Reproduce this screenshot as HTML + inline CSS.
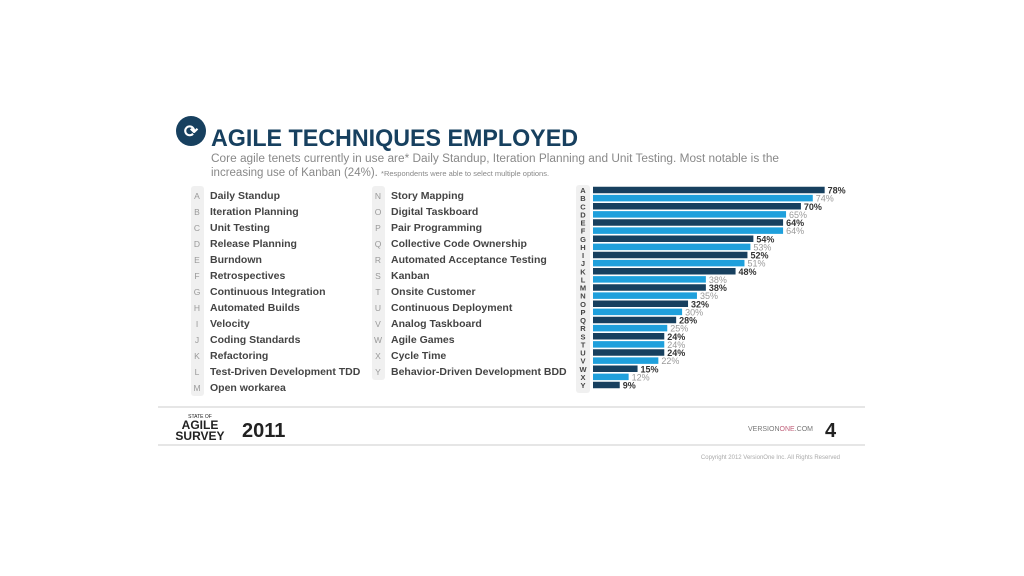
<!DOCTYPE html>
<html><head><meta charset="utf-8"><style>
body{margin:0;background:#fff;width:1024px;height:576px;overflow:hidden;font-family:"Liberation Sans",sans-serif}
svg{display:block}
</style></head><body>
<svg id="s" width="1024" height="576" xmlns="http://www.w3.org/2000/svg">
<g>
<circle cx="191" cy="131" r="15" fill="#17405f"/>
<text x="191" y="137" font-size="17" fill="#fff" text-anchor="middle" font-weight="bold">⟳</text>
<text x="211" y="146" font-size="24" font-weight="bold" fill="#17405f" textLength="367" lengthAdjust="spacingAndGlyphs">AGILE TECHNIQUES EMPLOYED</text>
<text x="211" y="162" font-size="11.5" fill="#888" textLength="568" lengthAdjust="spacingAndGlyphs">Core agile tenets currently in use are* Daily Standup, Iteration Planning and Unit Testing. Most notable is the</text>
<text x="211" y="176" font-size="11.5" fill="#888">increasing use of Kanban (24%). <tspan font-size="7.5">*Respondents were able to select multiple options.</tspan></text>
</g>
<g id="legend">
<rect x="191" y="186" width="13" height="210" rx="3" fill="#f0f0f0"/>
<rect x="372" y="186" width="13" height="194" rx="3" fill="#f0f0f0"/>
</g>
<rect x="576" y="185" width="14" height="208" rx="3" fill="#f0f0f0"/>
<g id="chart"></g>
<g>
<line x1="158" y1="407" x2="865" y2="407" stroke="#ddd" stroke-width="1.5"/>
<line x1="158" y1="445" x2="865" y2="445" stroke="#ddd" stroke-width="1.5"/>
<text x="200" y="418" font-size="5" fill="#222" text-anchor="middle">STATE OF</text>
<text x="200" y="429" font-size="12" font-weight="bold" fill="#222" text-anchor="middle">AGILE</text>
<text x="200" y="440" font-size="12" font-weight="bold" fill="#222" text-anchor="middle">SURVEY</text>
<text x="242" y="437" font-size="20" font-weight="bold" fill="#222">2011</text>
<text x="748" y="431" font-size="7" fill="#777">VERSION<tspan fill="#c0607a">ONE</tspan>.COM</text>
<text x="825" y="437" font-size="20" font-weight="bold" fill="#222">4</text>
<text x="840" y="459" font-size="6" fill="#aaa" text-anchor="end">Copyright 2012 VersionOne Inc. All Rights Reserved</text>
</g>
</svg>
<script>
const letters=["A","B","C","D","E","F","G","H","I","J","K","L","M","N","O","P","Q","R","S","T","U","V","W","X","Y"];
const names=["Daily Standup","Iteration Planning","Unit Testing","Release Planning","Burndown","Retrospectives","Continuous Integration","Automated Builds","Velocity","Coding Standards","Refactoring","Test-Driven Development TDD","Open workarea","Story Mapping","Digital Taskboard","Pair Programming","Collective Code Ownership","Automated Acceptance Testing","Kanban","Onsite Customer","Continuous Deployment","Analog Taskboard","Agile Games","Cycle Time","Behavior-Driven Development BDD"];
const values=[78,74,70,65,64,64,54,53,52,51,48,38,38,35,32,30,28,25,24,24,24,22,15,12,9];
const NS="http://www.w3.org/2000/svg";
function mk(t,a,p){const e=document.createElementNS(NS,t);for(const k in a)e.setAttribute(k,a[k]);p.appendChild(e);return e;}
const lg=document.getElementById('legend'),ch=document.getElementById('chart');
const x0=593,xs=v=>v*2.97,yA=190,step=8.125,bh=6.5;
letters.forEach((l,i)=>{
  const col=i<13?0:1,r=i<13?i:i-13;
  const y=199+r*16;
  const lt=mk('text',{x:col?378:197,y:y,'font-size':8.5,fill:'#999','text-anchor':'middle'},lg);
  lt.textContent=l;
  
  
  const nt=mk('text',{x:col?391:210,y:y,'font-size':10.5,'font-weight':'bold',fill:'#444'},lg);
  nt.textContent=names[i];
  
  
  const cy=yA+i*step;
  const dark=i%2===0;
  const ct=mk('text',{x:583,y:cy+3,'font-size':7.5,'font-weight':'bold',fill:'#444','text-anchor':'middle'},ch);
  ct.textContent=l;
  
  
  const b=mk('rect',{x:x0,y:cy-bh/2,width:xs(values[i]),height:bh,fill:dark?'#17405f':'#1fa0dc'},ch);
  
  
  const vt=mk('text',{x:x0+xs(values[i])+3,y:cy+3.5,'font-size':9,'font-weight':dark?'bold':'normal',fill:dark?'#333':'#999'},ch);
  vt.textContent=values[i]+'%';
  
  
});
</script>
</body></html>
